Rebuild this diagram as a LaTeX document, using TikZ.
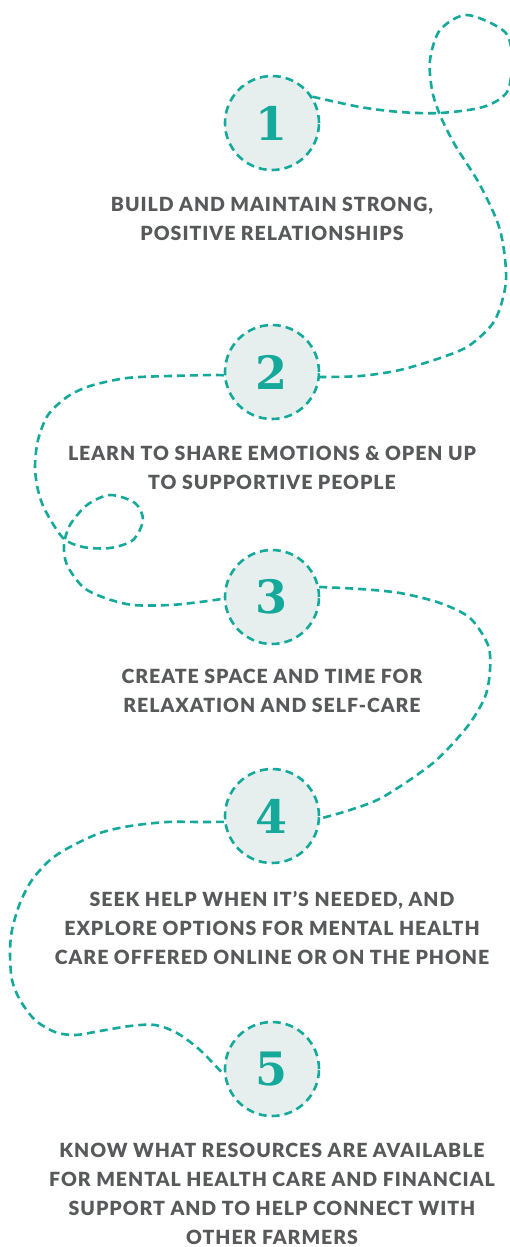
\documentclass[tikz,border=0pt]{standalone}
\usepackage{fontspec}
\setmainfont{Lato}[BoldFont={* Black}, BoldFeatures={LetterSpace=5}]
\newfontfamily\numfont{DejaVu Serif}
\usetikzlibrary{positioning}

\definecolor{trailteal}{HTML}{14A99A}
\definecolor{numfill}{HTML}{E6EFEE}
\definecolor{tipgray}{HTML}{58595B}

\begin{document}
\begin{tikzpicture}[x=1pt, y=-1pt,
    num/.style={draw=trailteal, dash pattern=on 8pt off 5pt, line width=2.6pt, circle, fill=numfill, minimum size=94pt, inner sep=0pt, text=trailteal, font=\numfont\bfseries\fontsize{46}{46}\selectfont},
    tip/.style={text=tipgray, align=center, inner sep=0pt, font=\bfseries\fontsize{19.5}{29}\selectfont},
    trail/.style={trailteal, line width=2.6pt, dash pattern=on 8pt off 5pt}]
        \useasboundingbox (0,0) rectangle (510,1247);

        % numbered steps
        \node[num] (n1) at (272,123) {1};
        \node[num] (n2) at (272,372) {2};
        \node[num] (n3) at (272,597) {3};
        \node[num] (n4) at (272,816) {4};
        \node[num] (n5) at (272,1069) {5};

        % step texts
        \node[tip, below=26pt of n1] (t1) {BUILD AND MAINTAIN STRONG,\\POSITIVE RELATIONSHIPS};
        \node[tip, below=26pt of n2] (t2) {LEARN TO SHARE EMOTIONS \& OPEN UP\\TO SUPPORTIVE PEOPLE};
        \node[tip, below=24pt of n3] (t3) {CREATE SPACE AND TIME FOR\\RELAXATION AND SELF-CARE};
        \node[tip, below=27pt of n4] (t4) {SEEK HELP WHEN IT’S NEEDED, AND\\EXPLORE OPTIONS FOR MENTAL HEALTH\\CARE OFFERED ONLINE OR ON THE PHONE};
        \node[tip, below=26pt of n5] (t5) {KNOW WHAT RESOURCES ARE AVAILABLE\\FOR MENTAL HEALTH CARE AND FINANCIAL\\SUPPORT AND TO HELP CONNECT WITH\\OTHER FARMERS};

        % the winding path between the steps
        \draw[trail] plot[smooth] coordinates {(n1.33) (360,107) (400,112) (440,113) (483,107) (507,92) (512,60) (505,32) (467,15) (440,30) (430,60) (432,90) (440,115) (455,145) (480,185) (500,230) (506,280) (495,320) (470,345) (443,357) (400,370) (360,376) (n2.-6)};
        \draw[trail] plot[smooth] coordinates {(n2.184) (213,375) (170,376) (127,378) (90,386) (67,397) (48,415) (38,440) (35,467) (38,490) (45,510) (63,538) (83,547) (110,548) (133,540) (143,520) (135,503) (110,495) (87,505) (70,525) (64,545) (67,565) (83,587) (105,598) (133,605) (170,605) (200,602) (n3.182)};
        \draw[trail] plot[smooth] coordinates {(n3.12) (360,589) (400,593) (440,603) (470,618) (488,645) (490,670) (485,697) (467,727) (433,763) (383,797) (350,810) (n4.-3)};
        \draw[trail] plot[smooth] coordinates {(n4.187) (200,822) (167,822) (130,826) (100,833) (70,847) (50,860) (32,880) (20,903) (12,930) (10,953) (12,980) (20,1000) (35,1020) (55,1032) (75,1035) (100,1031) (130,1026) (155,1025) (177,1033) (200,1050) (n5.187)};

    \end{tikzpicture}
\end{document}
